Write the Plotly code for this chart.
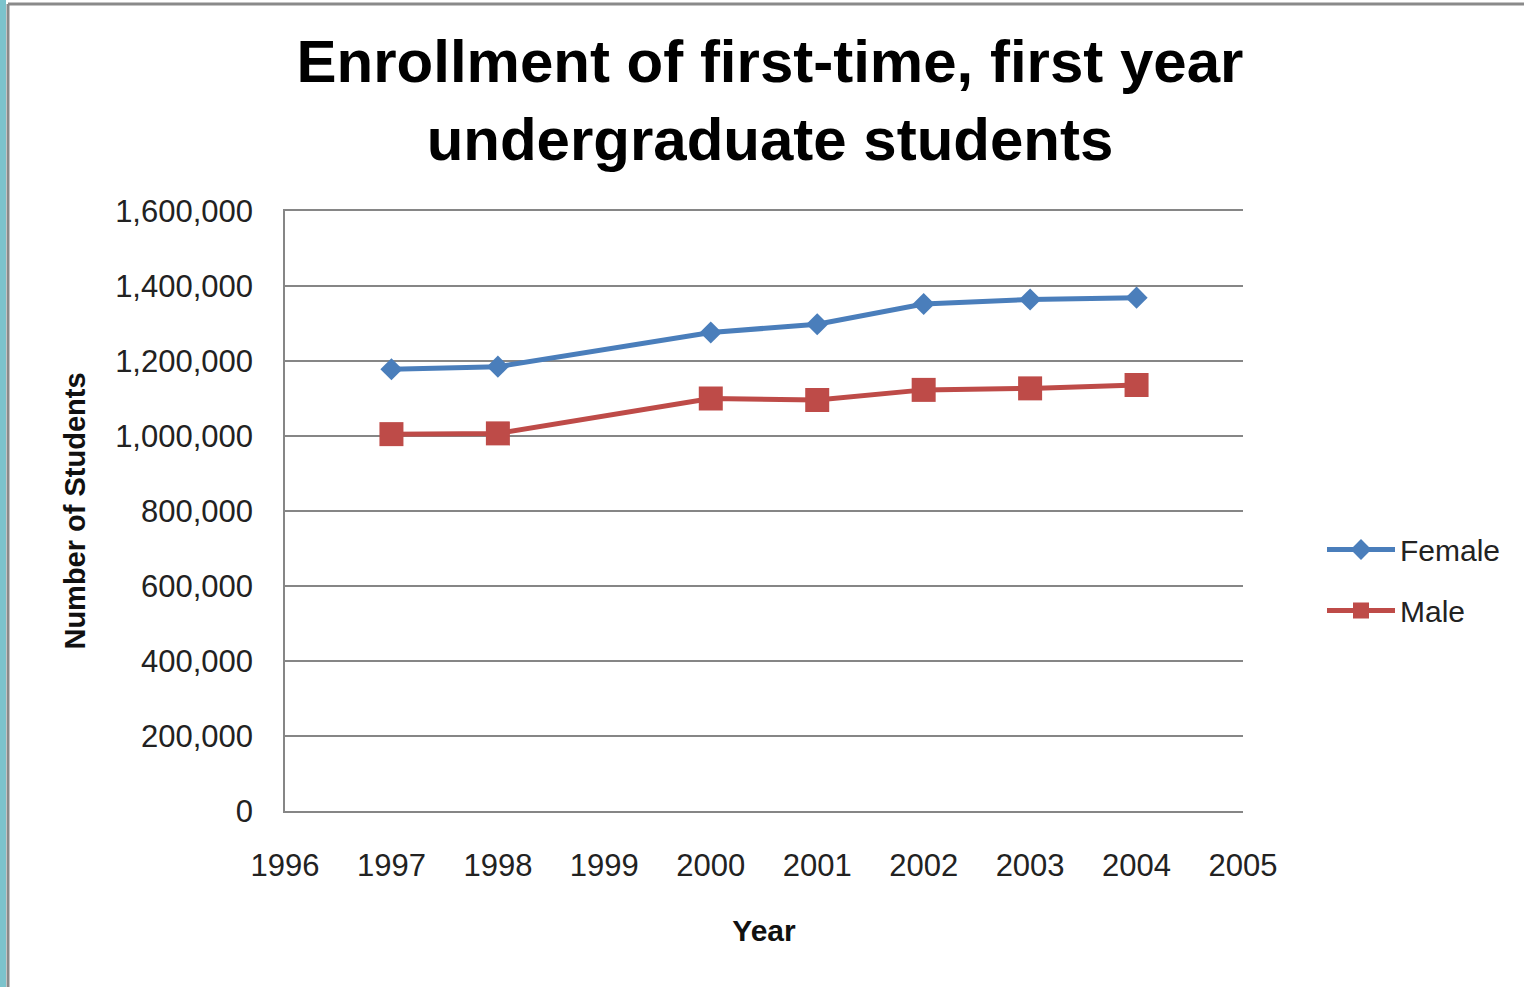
import plotly.graph_objects as go

years = [1997, 1998, 2000, 2001, 2002, 2003, 2004]
female = [1178000, 1185000, 1276000, 1298000, 1352000, 1364000, 1369000]
male = [1005000, 1007000, 1100000, 1096000, 1123000, 1127000, 1136000]

x_ticks = list(range(1996, 2006))
y_ticks = list(range(0, 1600001, 200000))

W, H = 1524, 987
L, R, T, B = 285, 1243, 211, 811
PW, PH = R - L, B - T

def px(p):
    return (p - L) / PW

def py(q):
    return (B - q) / PH

FONT = "Liberation Sans, Arial, sans-serif"

fig = go.Figure()
fig.add_trace(go.Scatter(
    x=years, y=female, name="Female", mode="lines+markers",
    line=dict(color="#4a7ebb", width=5),
    marker=dict(symbol="diamond", size=17, color="#4a7ebb"),
    legendgroup="f",
))
fig.add_trace(go.Scatter(
    x=years, y=male, name="Male", mode="lines+markers",
    line=dict(color="#be4b48", width=5),
    marker=dict(symbol="square", size=24, color="#be4b48"),
    legendgroup="m",
))

fig.update_layout(
    width=W, height=H,
    margin=dict(l=L, r=W - R, t=T, b=H - B),
    paper_bgcolor="white", plot_bgcolor="white",
    font=dict(family=FONT, color="#222222"),
    title=dict(
        text="<b>Enrollment of first-time, first year<br>undergraduate students</b>",
        x=770 / W, xanchor="center", xref="container",
        y=1 - 82 / H, yanchor="middle", yref="container",
        font=dict(size=60, color="black", family=FONT),
    ),
    xaxis=dict(
        range=[1996, 2005], tickvals=x_ticks, ticktext=[str(v) for v in x_ticks],
        showgrid=False, showline=True, mirror=True, linecolor="#868686", linewidth=1.5,
        ticks="", ticklabelstandoff=26,
        tickfont=dict(size=31, color="#222222", family=FONT),
        title=dict(text="<b>Year</b>", font=dict(size=30, color="#111111", family=FONT), standoff=38),
        zeroline=False,
    ),
    yaxis=dict(
        range=[0, 1600000], tickvals=y_ticks,
        ticktext=[f"{v:,}" for v in y_ticks],
        showgrid=True, gridcolor="#868686", gridwidth=1.5,
        showline=True, linecolor="#868686", linewidth=1.5,
        ticks="", ticklabelstandoff=24,
        tickfont=dict(size=31, color="#222222", family=FONT),
        title=dict(text="<b>Number of Students</b>", font=dict(size=29, color="#111111", family=FONT), standoff=21),
        zeroline=False,
    ),
    legend=dict(
        x=px(1322), xanchor="left", y=py(580), yanchor="middle",
        font=dict(size=30, color="#222222", family=FONT),
        bgcolor="rgba(0,0,0,0)", tracegroupgap=19, itemwidth=68,
    ),
    showlegend=True,
    shapes=[
        dict(type="rect", xref="paper", yref="paper",
             x0=px(0), x1=px(6), y0=py(987), y1=py(0),
             fillcolor="#7cc3cc", line=dict(width=0), layer="below"),
        dict(type="line", xref="paper", yref="paper",
             x0=px(8), x1=px(8), y0=py(987), y1=py(4),
             line=dict(color="#8a8a8a", width=3)),
        dict(type="line", xref="paper", yref="paper",
             x0=px(8), x1=px(1524), y0=py(4), y1=py(4),
             line=dict(color="#8a8a8a", width=3)),
    ],
)

fig.write_html("out.html")
